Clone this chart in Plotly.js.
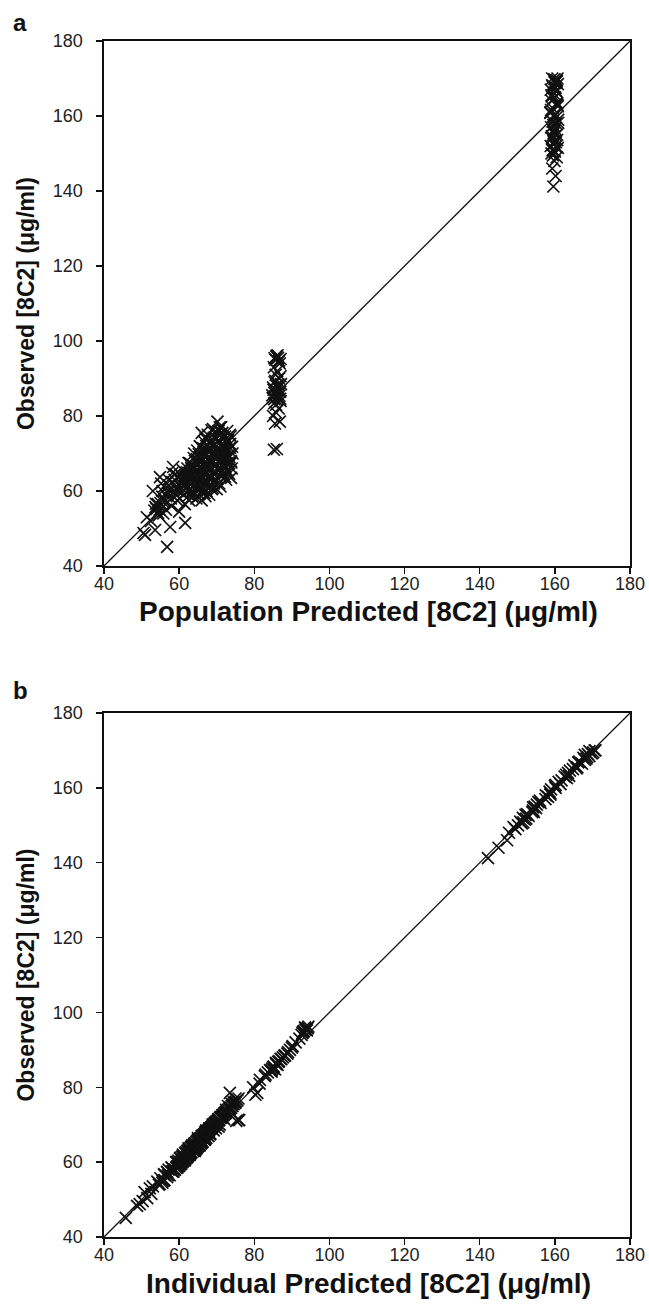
<!DOCTYPE html>
<html>
<head>
<meta charset="utf-8">
<script src="https://cdn.plot.ly/plotly-3.0.1.min.js"></script>
<style>html,body{margin:0;padding:0;background:#fff;}#chart{width:649px;height:1313px;}</style>
</head>
<body>
<div id="chart"></div>
<script>
// Observed concentrations (µg/ml)
const observed = [
  // low cluster
  48.3,48.8,53.0,49.6,60.0,55.7,55.2,56.5,63.7,62.0,58.5,54.0,57.3,45.1,50.4,59.5,61.5,56.0,66.4,63.0,60.5,57.5,51.5,53.5,56.8,55.0,52.0,58.0,64.5,54.5,
  // main cluster
  58.0,61.0,63.5,65.5,59.0,56.5,62.0,64.0,66.0,60.0,57.5,62.5,64.5,67.0,59.5,61.5,63.5,65.5,68.5,58.5,60.5,62.5,64.0,66.0,68.0,70.5,75.5,59.5,61.5,63.0,
  65.0,67.0,69.0,71.5,73.0,60.5,62.5,64.5,66.5,68.5,70.5,74.0,78.5,76.0,62.0,64.0,66.0,68.0,70.0,72.0,74.5,63.0,65.5,67.5,69.5,71.5,68.0,66.0,71.3,
  61.0,60.5,66.5,67.0,63.0,69.5,66.0,70.0,67.0,73.0,69.0,73.5,62.0,69.0,64.5,71.0,63.5,72.5,65.5,75.5,68.5,58.5,57.5,59.0,60.5,67.5,64.0,70.0,72.0,74.0,
  76.5,77.0,75.0,70.0,63.5,66.5,67.5,63.0,64.5,76.0,60.0,61.5,63.0,66.0,68.0,70.0,72.0,
  63.2,61.8,65.8,62.2,64.8,60.8,63.2,65.2,67.8,61.2,63.8,65.4,67.2,69.4,62.6,64.6,66.2,68.4,70.6,64.2,
  66.0,68.2,70.2,72.2,65.0,67.2,69.2,71.2,73.2,66.2,68.4,70.4,72.6,74.2,67.0,69.2,71.2,73.0,65.0,67.2,
  69.0,72.6,58.8,60.0,58.0,59.2,60.2,60.0,61.6,62.0,63.4,65.2,66.4,64.6,60.2,63.4,65.0,67.4,68.8,70.8,
  71.8,73.2,75.0,76.2,75.8,75.0,77.0,74.2,72.6,72.0,71.4,69.8,68.0,66.2,62.6,64.2,63.6,61.0,58.8,59.6,
  62.4,60.4,58.6,60.0,57.4,55.0,54.2,56.6,54.8,61.2,63.0,64.8,61.2,60.8,58.6,63.8,67.6,71.8,74.6,
  // ~86 cluster
  71.0,71.2,78.0,78.5,80.0,82.0,83.0,84.0,84.5,85.0,85.5,86.0,86.5,87.0,87.5,88.0,88.5,89.0,90.0,91.0,92.0,93.0,94.0,95.0,95.5,96.0,95.2,94.5,84.8,86.2,
  83.4,84.2,85.4,86.8,87.6,88.4,89.4,90.6,95.8,94.8,95.4,96.2,81.0,84.6,
  // ~160 cluster
  141.2,144.0,146.0,148.0,149.0,150.0,150.5,151.0,151.5,152.0,152.5,153.0,154.0,155.0,156.0,157.0,158.0,158.5,159.0,160.0,
  160.5,161.0,162.0,163.0,164.0,165.0,166.0,166.5,167.0,167.5,168.0,168.5,169.0,169.5,170.0,165.5,163.5,155.5,153.5,149.5,
  150.8,151.8,152.8,153.6,154.6,156.6,157.6,159.6,161.6,162.6,164.6,166.8,168.2,169.2,169.8,168.8,167.8,170.0,165.2,163.2,160.8,158.2,156.2,154.8
];
// Population predicted concentrations (µg/ml)
const populationPredicted = [
  50.9,50.5,51.4,53.6,53.0,53.7,54.0,54.3,54.9,55.2,55.5,55.8,56.2,56.8,57.6,57.0,57.3,58.0,58.4,58.8,59.2,59.5,61.6,54.6,55.0,56.5,52.5,57.8,59.0,60.0,
  60.2,60.5,60.8,61.0,61.2,61.5,61.8,62.0,62.2,62.5,62.7,63.0,63.2,63.5,63.7,64.0,64.2,64.5,64.7,65.0,65.2,65.5,65.7,66.0,66.2,66.5,66.0,66.7,67.0,67.2,
  67.5,67.7,68.0,68.2,68.5,68.7,69.0,69.2,69.5,69.7,70.0,70.0,70.2,70.5,70.7,71.0,71.2,71.5,71.7,72.0,72.2,72.5,72.7,73.0,73.2,73.5,73.8,74.0,72.0,
  62.0,63.0,64.0,65.0,66.0,67.0,68.0,69.0,70.0,71.0,72.0,73.0,64.5,65.5,66.5,67.5,68.5,69.5,70.5,71.5,72.5,63.5,66.0,68.0,70.0,62.5,61.5,64.0,65.5,67.0,
  69.0,70.8,73.5,74.2,73.8,66.8,68.8,69.8,71.8,72.8,60.0,61.0,63.8,65.8,67.8,69.8,71.8,
  62.3,62.8,63.3,63.6,64.1,64.4,64.9,65.1,65.4,65.6,65.9,66.1,66.4,66.6,66.9,67.1,67.4,67.6,67.9,68.1,
  68.4,68.6,68.9,69.1,69.4,69.6,69.9,70.1,70.4,70.6,70.9,71.1,71.4,71.6,71.9,72.1,72.4,72.6,72.9,73.1,
  73.4,73.6,62.6,63.4,64.6,65.3,66.3,67.3,68.3,69.3,70.3,71.3,72.3,73.3,61.3,61.7,62.1,62.9,63.9,64.8,
  65.6,66.6,67.6,68.6,69.6,70.6,71.2,69.2,68.2,67.2,66.4,65.2,64.2,63.2,60.6,60.4,59.8,59.6,59.4,58.6,
  58.2,57.4,56.6,55.6,55.4,54.8,54.4,53.8,53.4,56.0,57.2,58.2,71.0,69.0,67.0,72.2,73.9,74.1,73.7,
  85.2,86.0,85.5,86.8,85.0,86.5,85.8,87.0,85.3,86.2,84.8,85.6,86.9,85.1,86.4,85.9,87.1,85.4,86.6,85.7,86.1,85.2,86.8,85.6,86.3,85.9,87.0,86.5,84.9,85.4,
  85.3,86.1,86.7,85.8,85.0,86.4,85.6,87.0,85.9,86.6,85.4,86.2,85.7,86.9,
  159.6,160.2,159.3,159.9,160.5,159.1,160.0,159.5,160.8,158.9,159.7,160.3,159.2,160.6,159.8,159.0,160.4,159.4,160.9,159.6,
  160.1,158.8,159.5,160.7,159.2,160.0,159.7,160.4,158.9,160.2,159.4,160.8,159.9,160.5,159.3,159.1,160.6,159.8,160.1,159.5,
  159.4,160.2,159.8,160.6,159.2,160.0,159.6,160.4,159.0,160.8,159.7,160.3,159.3,160.5,159.9,160.1,159.5,160.7,159.2,160.4,158.8,160.9,159.6,160.2
];
// Individual predicted concentrations (µg/ml)
const individualPredicted = [
  48.8,49.5,52.2,50.3,59.2,55.0,56.1,57.0,62.5,61.0,58.0,54.6,56.8,45.8,51.5,60.2,60.8,56.8,65.0,62.2,61.0,58.2,52.6,53.0,56.0,55.8,50.8,57.2,63.5,55.5,
  58.6,60.2,62.8,64.6,59.8,57.5,62.5,63.2,65.0,60.5,58.5,63.0,63.8,66.0,60.2,61.0,64.2,64.8,67.2,59.5,61.2,62.0,64.8,65.2,67.5,69.8,74.0,60.5,62.2,63.8,
  64.2,66.5,68.2,70.5,72.0,61.5,63.0,65.2,66.0,68.0,69.5,72.5,73.5,74.5,62.8,64.8,66.8,67.2,70.8,71.2,73.8,64.2,66.2,68.2,70.5,72.0,67.0,65.2,75.7,
  61.5,61.2,65.8,66.2,63.8,68.8,66.8,69.2,67.8,72.2,69.8,72.5,62.8,68.0,65.2,70.2,64.2,71.5,66.2,74.5,69.2,59.2,58.2,60.0,61.5,66.8,63.2,69.0,71.2,73.0,
  75.5,75.0,73.0,69.0,64.5,67.2,68.2,63.8,65.5,75.0,59.5,61.0,62.5,66.8,67.5,69.5,71.5,
  62.6,62.4,65.0,62.9,64.1,61.6,63.9,65.9,67.0,61.9,64.4,66.0,66.6,68.7,63.3,65.3,65.6,67.8,69.8,64.9,
  65.4,67.6,69.5,71.4,65.8,66.6,68.6,70.6,72.4,66.9,67.8,69.8,71.8,73.4,67.7,68.6,70.6,72.2,65.7,66.6,
  68.4,71.8,59.5,60.7,58.9,60.0,60.9,60.8,62.3,62.7,64.1,65.9,67.1,65.3,60.8,62.8,64.3,66.6,68.0,69.9,
  70.9,72.3,74.0,75.1,74.9,74.2,75.8,73.4,71.8,71.0,70.4,69.0,67.3,65.5,61.8,63.4,62.8,60.4,59.4,60.2,
  61.6,59.8,58.0,59.3,56.8,55.6,54.8,56.0,54.2,60.4,62.2,64.0,62.0,61.5,59.4,64.6,68.3,71.0,73.6,
  75.2,76.0,80.3,80.8,79.7,81.5,82.8,83.6,84.6,84.8,85.2,86.2,85.8,86.6,87.2,87.6,88.2,88.8,89.5,90.2,91.0,92.0,92.6,93.2,93.8,93.5,94.0,92.8,85.5,85.8,
  83.0,84.6,85.0,86.4,87.0,88.0,89.0,90.0,94.2,93.0,93.6,94.4,81.4,84.2,
  142.2,145.0,147.3,147.8,149.5,150.2,151.2,150.8,152.0,151.5,153.0,152.6,154.2,154.6,156.2,157.5,157.6,158.8,158.6,160.2,
  160.0,161.5,161.8,162.6,163.5,164.8,165.2,167.2,166.5,168.0,167.6,169.2,168.8,170.2,170.6,166.0,163.0,155.2,154.0,149.0,
  151.6,152.4,152.2,154.4,155.0,156.0,158.2,159.0,161.0,163.2,164.0,166.2,168.6,169.8,169.2,168.0,168.4,170.8,165.8,163.8,160.2,158.8,155.6,154.2
];
const identityLine = [40, 180];
const tickValues = [40, 60, 80, 100, 120, 140, 160, 180];
const panelLabels = ['a', 'b'];
const xTitles = ['Population Predicted [8C2] (\u03bcg/ml)', 'Individual Predicted [8C2] (\u03bcg/ml)'];
const yTitle = 'Observed [8C2] (\u03bcg/ml)';

const W = 649, H = 1313;
const xDom = [104 / W, 630 / W];
const topDom = [1 - 566 / H, 1 - 41 / H];
const botDom = [1 - 1237 / H, 1 - 713 / H];

const markerStyle = {symbol: 'x-thin-open', size: 12, color: '#111', line: {width: 1.7, color: '#111'}};
const lineStyle = {color: '#111', width: 1.3};

const traces = [
  {x: identityLine, y: identityLine, mode: 'lines', line: lineStyle, xaxis: 'x', yaxis: 'y', hoverinfo: 'skip'},
  {x: populationPredicted, y: observed, mode: 'markers', marker: markerStyle, xaxis: 'x', yaxis: 'y'},
  {x: identityLine, y: identityLine, mode: 'lines', line: lineStyle, xaxis: 'x2', yaxis: 'y2', hoverinfo: 'skip'},
  {x: individualPredicted, y: observed, mode: 'markers', marker: markerStyle, xaxis: 'x2', yaxis: 'y2'}
];

const fontFam = '"Liberation Sans", Arial, sans-serif';
function axis(dom, anchor, title, titleSize, standoff, labelStandoff) {
  const a = {
    domain: dom, anchor: anchor, range: [40, 180], tickvals: tickValues,
    showgrid: false, zeroline: false, showline: true, mirror: true,
    linecolor: '#111', linewidth: 1.6, ticks: 'outside', ticklen: 6, tickwidth: 1.3, tickcolor: '#111',
    ticklabelstandoff: labelStandoff,
    tickfont: {family: fontFam, size: 18, color: '#222'},
    automargin: false
  };
  if (title) a.title = {text: title, font: {family: fontFam, size: titleSize, color: '#111'}, standoff: standoff};
  return a;
}

function panelText(txt, xpx, ypx, size, angle) {
  return {text: '<b>' + txt + '</b>', xref: 'paper', yref: 'paper', x: xpx / W, y: 1 - ypx / H,
    xanchor: 'center', yanchor: 'middle', showarrow: false, textangle: angle || 0,
    font: {family: fontFam, size: size, color: '#111'}};
}

const layout = {
  width: W, height: H,
  margin: {l: 0, r: 0, t: 0, b: 0},
  paper_bgcolor: '#fff', plot_bgcolor: '#fff',
  showlegend: false,
  font: {family: fontFam, color: '#111'},
  xaxis: axis(xDom, 'y', null, 0, 0, -5),
  yaxis: axis(topDom, 'x', '<b>' + yTitle + '</b>', 23, 12, 10),
  xaxis2: axis(xDom, 'y2', null, 0, 0, -5),
  yaxis2: axis(botDom, 'x2', '<b>' + yTitle + '</b>', 23, 12, 10),
  annotations: [
    panelText(xTitles[0], 368, 611, 28),
    panelText(xTitles[1], 368, 1283, 28),
    panelText(panelLabels[0], 20, 22, 24),
    panelText(panelLabels[1], 20, 690, 24)
  ]
};

Plotly.newPlot('chart', traces, layout, {staticPlot: true, displayModeBar: false});
</script>
</body>
</html>
